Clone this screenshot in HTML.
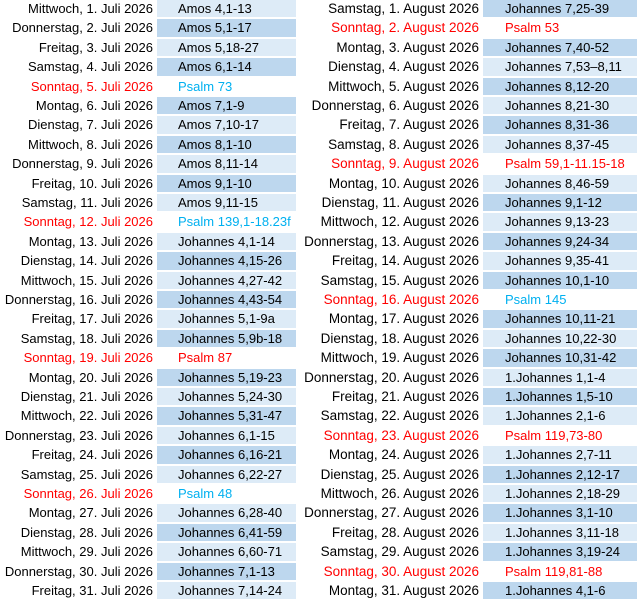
<!DOCTYPE html>
<html><head><meta charset="utf-8"><style>
body{margin:0;width:640px;height:600px;background:#fff;position:relative;overflow:hidden;font-family:"Liberation Sans",sans-serif;font-size:13px;color:#000}
.r{position:absolute;height:17.4px;line-height:18px;white-space:nowrap}
.d{text-align:right;z-index:2}
.L .d{left:0;width:153px}
.R .d{left:290px;width:189px;font-size:13.5px}
.L .c{left:157px;width:139px;padding-left:21px;box-sizing:border-box}
.R .c{left:483px;width:154px;padding-left:22px;box-sizing:border-box}
.a{background:#ddebf7}.b{background:#bdd7ee}
.s{color:#ff0000}.p{color:#00b0f0}
</style></head><body>
<div class="L">
<div class="r d" style="top:0px">Mittwoch, 1. Juli 2026</div><div class="r c a" style="top:0px">Amos 4,1-13</div>
<div class="r d" style="top:19.4px">Donnerstag, 2. Juli 2026</div><div class="r c b" style="top:19.4px">Amos 5,1-17</div>
<div class="r d" style="top:38.8px">Freitag, 3. Juli 2026</div><div class="r c a" style="top:38.8px">Amos 5,18-27</div>
<div class="r d" style="top:58.2px">Samstag, 4. Juli 2026</div><div class="r c b" style="top:58.2px">Amos 6,1-14</div>
<div class="r d s" style="top:77.6px">Sonntag, 5. Juli 2026</div><div class="r c p" style="top:77.6px">Psalm 73</div>
<div class="r d" style="top:97px">Montag, 6. Juli 2026</div><div class="r c b" style="top:97px">Amos 7,1-9</div>
<div class="r d" style="top:116.4px">Dienstag, 7. Juli 2026</div><div class="r c a" style="top:116.4px">Amos 7,10-17</div>
<div class="r d" style="top:135.8px">Mittwoch, 8. Juli 2026</div><div class="r c b" style="top:135.8px">Amos 8,1-10</div>
<div class="r d" style="top:155.2px">Donnerstag, 9. Juli 2026</div><div class="r c a" style="top:155.2px">Amos 8,11-14</div>
<div class="r d" style="top:174.6px">Freitag, 10. Juli 2026</div><div class="r c b" style="top:174.6px">Amos 9,1-10</div>
<div class="r d" style="top:194px">Samstag, 11. Juli 2026</div><div class="r c a" style="top:194px">Amos 9,11-15</div>
<div class="r d s" style="top:213.4px">Sonntag, 12. Juli 2026</div><div class="r c p" style="top:213.4px">Psalm 139,1-18.23f</div>
<div class="r d" style="top:232.8px">Montag, 13. Juli 2026</div><div class="r c a" style="top:232.8px">Johannes 4,1-14</div>
<div class="r d" style="top:252.2px">Dienstag, 14. Juli 2026</div><div class="r c b" style="top:252.2px">Johannes 4,15-26</div>
<div class="r d" style="top:271.6px">Mittwoch, 15. Juli 2026</div><div class="r c a" style="top:271.6px">Johannes 4,27-42</div>
<div class="r d" style="top:291px">Donnerstag, 16. Juli 2026</div><div class="r c b" style="top:291px">Johannes 4,43-54</div>
<div class="r d" style="top:310.4px">Freitag, 17. Juli 2026</div><div class="r c a" style="top:310.4px">Johannes 5,1-9a</div>
<div class="r d" style="top:329.8px">Samstag, 18. Juli 2026</div><div class="r c b" style="top:329.8px">Johannes 5,9b-18</div>
<div class="r d s" style="top:349.2px">Sonntag, 19. Juli 2026</div><div class="r c s" style="top:349.2px">Psalm 87</div>
<div class="r d" style="top:368.6px">Montag, 20. Juli 2026</div><div class="r c b" style="top:368.6px">Johannes 5,19-23</div>
<div class="r d" style="top:388px">Dienstag, 21. Juli 2026</div><div class="r c a" style="top:388px">Johannes 5,24-30</div>
<div class="r d" style="top:407.4px">Mittwoch, 22. Juli 2026</div><div class="r c b" style="top:407.4px">Johannes 5,31-47</div>
<div class="r d" style="top:426.8px">Donnerstag, 23. Juli 2026</div><div class="r c a" style="top:426.8px">Johannes 6,1-15</div>
<div class="r d" style="top:446.2px">Freitag, 24. Juli 2026</div><div class="r c b" style="top:446.2px">Johannes 6,16-21</div>
<div class="r d" style="top:465.6px">Samstag, 25. Juli 2026</div><div class="r c a" style="top:465.6px">Johannes 6,22-27</div>
<div class="r d s" style="top:485px">Sonntag, 26. Juli 2026</div><div class="r c p" style="top:485px">Psalm 48</div>
<div class="r d" style="top:504.4px">Montag, 27. Juli 2026</div><div class="r c a" style="top:504.4px">Johannes 6,28-40</div>
<div class="r d" style="top:523.8px">Dienstag, 28. Juli 2026</div><div class="r c b" style="top:523.8px">Johannes 6,41-59</div>
<div class="r d" style="top:543.2px">Mittwoch, 29. Juli 2026</div><div class="r c a" style="top:543.2px">Johannes 6,60-71</div>
<div class="r d" style="top:562.6px">Donnerstag, 30. Juli 2026</div><div class="r c b" style="top:562.6px">Johannes 7,1-13</div>
<div class="r d" style="top:582px">Freitag, 31. Juli 2026</div><div class="r c a" style="top:582px">Johannes 7,14-24</div>
</div>
<div class="R">
<div class="r d" style="top:0px">Samstag, 1. August 2026</div><div class="r c b" style="top:0px">Johannes 7,25-39</div>
<div class="r d s" style="top:19.4px">Sonntag, 2. August 2026</div><div class="r c s" style="top:19.4px">Psalm 53</div>
<div class="r d" style="top:38.8px">Montag, 3. August 2026</div><div class="r c b" style="top:38.8px">Johannes 7,40-52</div>
<div class="r d" style="top:58.2px">Dienstag, 4. August 2026</div><div class="r c a" style="top:58.2px">Johannes 7,53–8,11</div>
<div class="r d" style="top:77.6px">Mittwoch, 5. August 2026</div><div class="r c b" style="top:77.6px">Johannes 8,12-20</div>
<div class="r d" style="top:97px">Donnerstag, 6. August 2026</div><div class="r c a" style="top:97px">Johannes 8,21-30</div>
<div class="r d" style="top:116.4px">Freitag, 7. August 2026</div><div class="r c b" style="top:116.4px">Johannes 8,31-36</div>
<div class="r d" style="top:135.8px">Samstag, 8. August 2026</div><div class="r c a" style="top:135.8px">Johannes 8,37-45</div>
<div class="r d s" style="top:155.2px">Sonntag, 9. August 2026</div><div class="r c s" style="top:155.2px">Psalm 59,1-11.15-18</div>
<div class="r d" style="top:174.6px">Montag, 10. August 2026</div><div class="r c a" style="top:174.6px">Johannes 8,46-59</div>
<div class="r d" style="top:194px">Dienstag, 11. August 2026</div><div class="r c b" style="top:194px">Johannes 9,1-12</div>
<div class="r d" style="top:213.4px">Mittwoch, 12. August 2026</div><div class="r c a" style="top:213.4px">Johannes 9,13-23</div>
<div class="r d" style="top:232.8px">Donnerstag, 13. August 2026</div><div class="r c b" style="top:232.8px">Johannes 9,24-34</div>
<div class="r d" style="top:252.2px">Freitag, 14. August 2026</div><div class="r c a" style="top:252.2px">Johannes 9,35-41</div>
<div class="r d" style="top:271.6px">Samstag, 15. August 2026</div><div class="r c b" style="top:271.6px">Johannes 10,1-10</div>
<div class="r d s" style="top:291px">Sonntag, 16. August 2026</div><div class="r c p" style="top:291px">Psalm 145</div>
<div class="r d" style="top:310.4px">Montag, 17. August 2026</div><div class="r c b" style="top:310.4px">Johannes 10,11-21</div>
<div class="r d" style="top:329.8px">Dienstag, 18. August 2026</div><div class="r c a" style="top:329.8px">Johannes 10,22-30</div>
<div class="r d" style="top:349.2px">Mittwoch, 19. August 2026</div><div class="r c b" style="top:349.2px">Johannes 10,31-42</div>
<div class="r d" style="top:368.6px">Donnerstag, 20. August 2026</div><div class="r c a" style="top:368.6px">1.Johannes 1,1-4</div>
<div class="r d" style="top:388px">Freitag, 21. August 2026</div><div class="r c b" style="top:388px">1.Johannes 1,5-10</div>
<div class="r d" style="top:407.4px">Samstag, 22. August 2026</div><div class="r c a" style="top:407.4px">1.Johannes 2,1-6</div>
<div class="r d s" style="top:426.8px">Sonntag, 23. August 2026</div><div class="r c s" style="top:426.8px">Psalm 119,73-80</div>
<div class="r d" style="top:446.2px">Montag, 24. August 2026</div><div class="r c a" style="top:446.2px">1.Johannes 2,7-11</div>
<div class="r d" style="top:465.6px">Dienstag, 25. August 2026</div><div class="r c b" style="top:465.6px">1.Johannes 2,12-17</div>
<div class="r d" style="top:485px">Mittwoch, 26. August 2026</div><div class="r c a" style="top:485px">1.Johannes 2,18-29</div>
<div class="r d" style="top:504.4px">Donnerstag, 27. August 2026</div><div class="r c b" style="top:504.4px">1.Johannes 3,1-10</div>
<div class="r d" style="top:523.8px">Freitag, 28. August 2026</div><div class="r c a" style="top:523.8px">1.Johannes 3,11-18</div>
<div class="r d" style="top:543.2px">Samstag, 29. August 2026</div><div class="r c b" style="top:543.2px">1.Johannes 3,19-24</div>
<div class="r d s" style="top:562.6px">Sonntag, 30. August 2026</div><div class="r c s" style="top:562.6px">Psalm 119,81-88</div>
<div class="r d" style="top:582px">Montag, 31. August 2026</div><div class="r c b" style="top:582px">1.Johannes 4,1-6</div>
</div>
</body></html>
